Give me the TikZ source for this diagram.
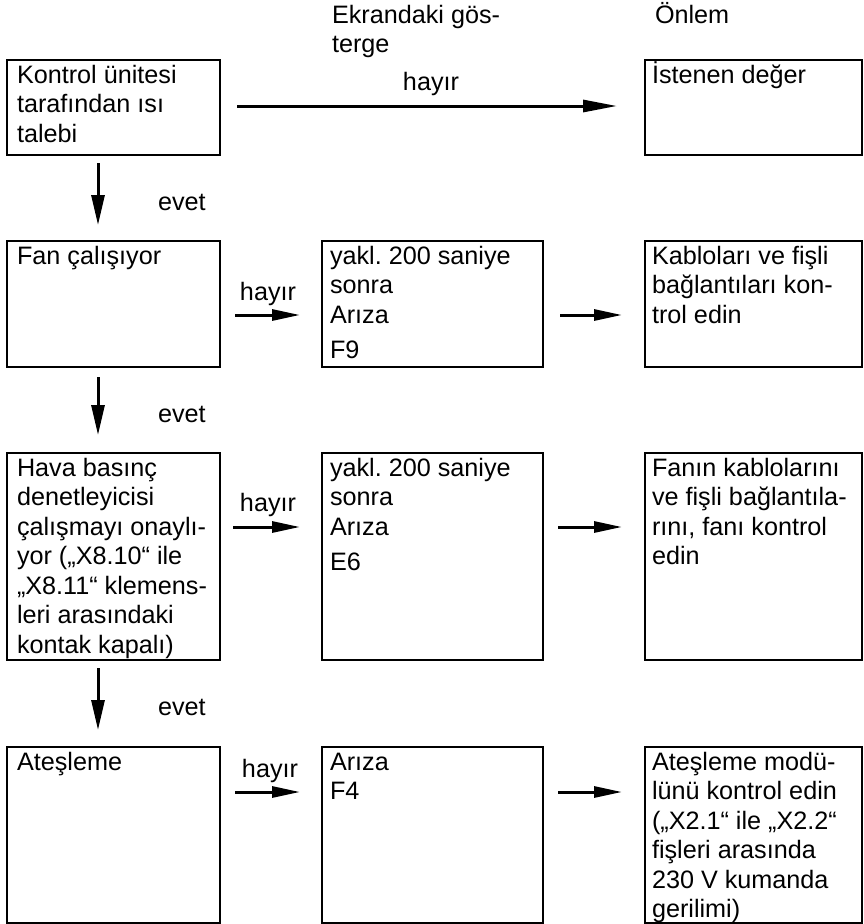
\documentclass[tikz,border=0pt]{standalone}
\usepackage{fontspec}
\setmainfont{Liberation Sans}
\usetikzlibrary{arrows.meta,calc}
\frenchspacing
\newcommand{\boxcontent}[3]{\parbox[c][#1][t]{#2}{\raggedright\frenchspacing\rule{0pt}{23pt}#3}}
\newcommand{\headcontent}[1]{\parbox[t]{250pt}{\raggedright\rule{0pt}{23pt}#1}}
\begin{document}
\begin{tikzpicture}[x=1pt,y=-1pt,
  every node/.style={font=\fontsize{25.2}{29.5}\selectfont},
  fbox/.style={draw, line width=1.6pt, inner ysep=0pt, inner xsep=#1, outer sep=0pt, anchor=north west},
  fbox/.default=10pt,
  lbl/.style={inner sep=0pt, outer sep=0pt},
  bigarrow/.style={line width=3pt, -{Triangle[length=34pt,width=12pt]}},
  sarrow/.style={line width=3pt, -{Triangle[length=28pt,width=11pt]}},
  darrow/.style={line width=3pt, -{Triangle[length=30pt,width=13pt]}}]
\useasboundingbox (0,0) rectangle (863,924);

% headers
\node[lbl, anchor=north west] (h2) at (332,0) {\headcontent{Ekrandaki gös-\\terge}};
\node[lbl, anchor=north west] (h3) at (655,0) {\headcontent{Önlem}};

% row 1
\node[fbox=10pt] (b11) at (7,60) {\boxcontent{95pt}{193pt}{Kontrol ünitesi\\tarafından ısı\\talebi}};
\node[fbox=7pt] (b13) at (645,60) {\boxcontent{95pt}{203pt}{İstenen değer}};

% row 2
\node[fbox=10pt] (b21) at (7,241) {\boxcontent{126pt}{193pt}{Fan çalışıyor}};
\node[fbox=8pt] (b22) at (322,241) {\boxcontent{126pt}{205pt}{yakl. 200 saniye\\sonra\\Arıza\\[6pt]F9}};
\node[fbox=7pt] (b23) at (645,241) {\boxcontent{126pt}{203pt}{Kabloları ve fişli\\bağlantıları kon-\\trol edin}};

% row 3
\node[fbox=10pt] (b31) at (7,453) {\boxcontent{207pt}{193pt}{Hava basınç\\denetleyicisi\\çalışmayı onaylı-\\yor („X8.10“ ile\\„X8.11“ klemens-\\leri arasındaki\\kontak kapalı)}};
\node[fbox=8pt] (b32) at (322,453) {\boxcontent{207pt}{205pt}{yakl. 200 saniye\\sonra\\Arıza\\[6pt]E6}};
\node[fbox=7pt] (b33) at (645,453) {\boxcontent{207pt}{203pt}{Fanın kablolarını\\ve fişli bağlantıla-\\rını, fanı kontrol\\edin}};

% row 4
\node[fbox=10pt] (b41) at (7,747) {\boxcontent{176pt}{193pt}{Ateşleme}};
\node[fbox=8pt] (b42) at (322,747) {\boxcontent{176pt}{205pt}{Arıza\\F4}};
\node[fbox=7pt] (b43) at (645,747) {\boxcontent{176pt}{203pt}{Ateşleme modü-\\lünü kontrol edin\\(„X2.1“ ile „X2.2“\\fişleri arasında\\230 V kumanda\\gerilimi)}};

% row 1 arrow
\draw[bigarrow, shorten <=17pt, shorten >=28pt] ([yshift=1.5pt]b11.east) -- ([yshift=1.5pt]b13.west);
\node[lbl, anchor=base] (n1) at (431,90) {hayır};

% row 2 arrows
\draw[sarrow, shorten <=15pt, shorten >=22pt] ([yshift=-11pt]b21.east) -- ([yshift=-11pt]b22.west);
\draw[sarrow, shorten <=17pt, shorten >=23pt] ([yshift=-11pt]b22.east) -- ([yshift=-11pt]b23.west);
\node[lbl, anchor=base] (n2) at (268,300) {hayır};

% row 3 arrows
\draw[sarrow, shorten <=13pt, shorten >=22pt] ([yshift=29.5pt]b31.east) -- ([yshift=29.5pt]b32.west);
\draw[sarrow, shorten <=15pt, shorten >=23pt] ([yshift=29.5pt]b32.east) -- ([yshift=29.5pt]b33.west);
\node[lbl, anchor=base] (n3) at (268,511) {hayır};

% row 4 arrows
\draw[sarrow, shorten <=15pt, shorten >=22pt] ([yshift=43pt]b41.east) -- ([yshift=43pt]b42.west);
\draw[sarrow, shorten <=15pt, shorten >=23pt] ([yshift=43pt]b42.east) -- ([yshift=43pt]b43.west);
\node[lbl, anchor=base] (n4) at (270,777) {hayır};

% down arrows
\draw[darrow, shorten <=8pt, shorten >=16pt] ([xshift=-15.5pt]b11.south) -- ([xshift=-15.5pt]b21.north);
\draw[darrow, shorten <=10pt, shorten >=18pt] ([xshift=-15.5pt]b21.south) -- ([xshift=-15.5pt]b31.north);
\draw[darrow, shorten <=8pt, shorten >=17pt] ([xshift=-15.5pt]b31.south) -- ([xshift=-15.5pt]b41.north);
\node[lbl, anchor=base west] (e1) at (158,210) {evet};
\node[lbl, anchor=base west] (e2) at (158,422) {evet};
\node[lbl, anchor=base west] (e3) at (158,715) {evet};
\end{tikzpicture}
\end{document}
